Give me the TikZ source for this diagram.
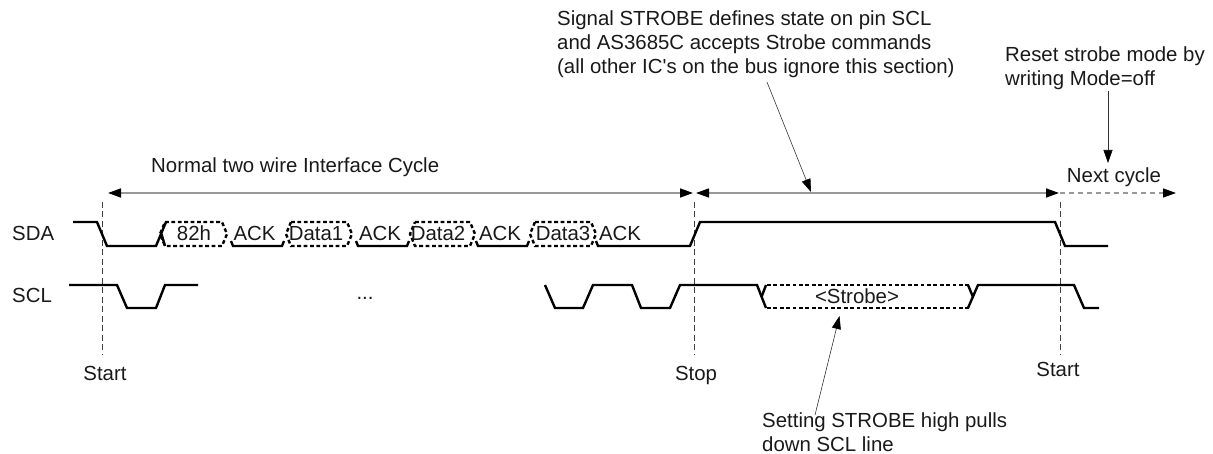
\documentclass[tikz,border=0pt]{standalone}
\usepackage{fontspec}
\setmainfont{Liberation Sans}
\usetikzlibrary{arrows.meta}
\newcommand{\databx}[2]{%
  \draw[dsig] (#1,222) -- (#2,222) -- ({#2+5},234) -- (#2,246) -- (#1,246) -- ({#1-5},234) -- cycle;}
\newcommand{\ackline}[2]{%
  \draw[sig] ({#1-2},241) -- (#1,246) -- (#2,246) -- ({#2+2},241);}
\tikzset{
  x=1pt,y=-1pt,
  sig/.style={line width=2.4pt,black,line join=miter},
  dsig/.style={line width=2.4pt,black,dash pattern=on 3.8pt off 2.6pt},
  span/.style={line width=1.5pt,color=black!40,{Triangle[length=13pt,width=9pt,color=black]}-{Triangle[length=13pt,width=9pt,color=black]}},
  nextspan/.style={line width=1.3pt,color=black!40,dash pattern=on 5pt off 4pt,-{Triangle[length=13pt,width=9pt,color=black]}},
  guide/.style={line width=0.7pt,black!75,dash pattern=on 6pt off 3.5pt},
  lead/.style={line width=0.6pt,black!80,-{Triangle[length=13pt,width=9pt,color=black]}},
  txt/.style={inner sep=0pt,font=\fontsize{20.4}{23.6}\selectfont,text=black!90},
  ntxt/.style={txt,align=left,anchor=north west},
}
\begin{document}
\begin{tikzpicture}
\useasboundingbox (0,0) rectangle (1213,454);
% coordinates
\coordinate (s0) at (102,193);
\coordinate (s1) at (694.5,193);
\coordinate (s2) at (1060,193);
\coordinate (s3) at (1176,193);
\coordinate (g0t) at (102,202);
\coordinate (g0b) at (102,355);
\coordinate (g1t) at (694,202);
\coordinate (g1b) at (694,355);
\coordinate (g2t) at (1060,202);
\coordinate (g2b) at (1060,355);
\coordinate (a1s) at (767,82);
\coordinate (a1e) at (811,192);
\coordinate (a2s) at (1108,91);
\coordinate (a2e) at (1108,163);
\coordinate (a3s) at (815,415);
\coordinate (a3e) at (839.5,316);
% span arrows
\draw[span] ([xshift=6pt]s0) -- ([xshift=-1.5pt]s1);
\draw[span] ([xshift=1.5pt]s1) -- ([xshift=-1pt]s2);
\draw[nextspan] (s2) -- (s3);
% guides
\draw[guide] (g0t) -- (g0b);
\draw[guide] (g1t) -- (g1b);
\draw[guide] (g2t) -- (g2b);
% SDA
\draw[sig] (73,222) -- (97,222) -- (107,246) -- (156,246) -- (166,222);
\draw[sig] (161.5,234) -- (165,246);
\databx{165}{222}
\databx{291}{347}
\databx{415}{470}
\databx{535}{591}
\ackline{233}{282}
\ackline{358}{407}
\ackline{478}{527}
\draw[sig] (596,241) -- (598,246) -- (690,246) -- (700,222) -- (1055,222) -- (1065,246) -- (1108,246);
% SCL
\draw[sig] (69,285) -- (117,285) -- (127,308) -- (156,308) -- (165,285) -- (198,285);
\draw[sig] (545,285) -- (555,308) -- (583,308) -- (593,285) -- (632,285) -- (641,308) -- (670,308) -- (680,285) -- (757,285) -- (766,308);
\draw[sig] (761.5,297) -- (766,285);
\draw[dsig] (767,285) -- (969,285);
\draw[dsig] (767,308) -- (969,308);
\draw[sig] (968,308) -- (978,285) -- (1074,285) -- (1084,308) -- (1099,308);
\draw[sig] (968,285) -- (973,297);
% leaders
\draw[lead] (a1s) -- (a1e);
\draw[lead] (a2s) -- (a2e);
\draw[lead] (a3s) -- (a3e);
% labels
\node[txt,anchor=base west] (lsda) at (12,241) {SDA};
\node[txt,anchor=base west] (lscl) at (12,303) {SCL};
\node[txt,anchor=base west] (ltitle) at (151,173) {Normal two wire Interface Cycle};
\node[txt,anchor=base] (lnext) at (1114,183) {Next cycle};
\node[txt,anchor=base] (ld) at (365,300) {...};
\node[txt,anchor=base] (l1) at (194,241) {82h};
\node[txt,anchor=base] (l2) at (254.5,241) {ACK};
\node[txt,anchor=base] (l3) at (316,241) {Data1};
\node[txt,anchor=base] (l4) at (380,241) {ACK};
\node[txt,anchor=base] (l5) at (438,241) {Data2};
\node[txt,anchor=base] (l6) at (500,241) {ACK};
\node[txt,anchor=base] (l7) at (563,241) {Data3};
\node[txt,anchor=base] (l8) at (620,241) {ACK};
\node[txt,anchor=base] (l9) at (857,304) {<Strobe>};
\node[txt,anchor=base] (st0) at (105,380) {Start};
\node[txt,anchor=base] (st1) at (696,380) {Stop};
\node[txt,anchor=base] (st2) at (1058,376) {Start};
\node[ntxt] (n1) at (557,11) {Signal STROBE defines state on pin SCL\\and AS3685C accepts Strobe commands\\(all other IC\textquotesingle s on the bus ignore this section)};
\node[ntxt] (n2) at (1005,47) {Reset strobe mode by\\writing Mode=off};
\node[ntxt] (n3) at (762,413) {Setting STROBE high pulls\\down SCL line};
\end{tikzpicture}
\end{document}
